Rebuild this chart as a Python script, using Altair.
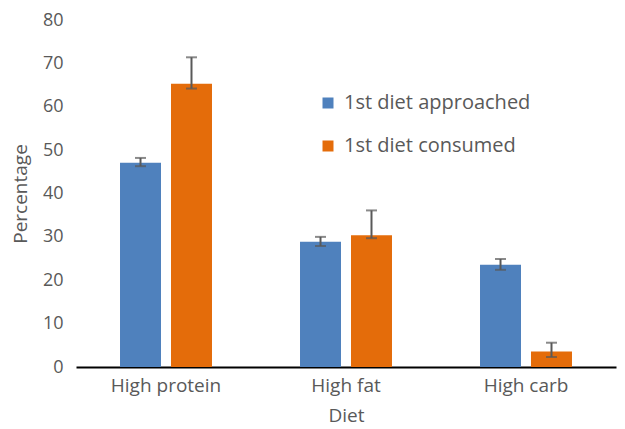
import altair as alt
import pandas as pd

diets = ["High protein", "High fat", "High carb"]
series = ["1st diet approached", "1st diet consumed"]
approached = [47.1, 28.9, 23.6]
approached_lo = [46.3, 27.9, 22.4]
approached_hi = [48.2, 30.0, 24.9]
consumed = [65.3, 30.4, 3.6]
consumed_lo = [64.2, 29.7, 2.3]
consumed_hi = [71.4, 36.1, 5.6]

rows = []
for i, d in enumerate(diets):
    rows.append({"Diet": d, "Series": series[0], "Value": approached[i], "lo": approached_lo[i], "hi": approached_hi[i]})
    rows.append({"Diet": d, "Series": series[1], "Value": consumed[i], "lo": consumed_lo[i], "hi": consumed_hi[i]})
df = pd.DataFrame(rows)

FONT = "Open Sans"
GREY = "#595959"

x = alt.X("Diet:N", sort=diets, title="Diet",
          scale=alt.Scale(paddingInner=0.489, paddingOuter=0.2445),
          axis=alt.Axis(labelAngle=0, ticks=False, domainColor="black", domainWidth=2,
                        labelPadding=9, labelFontSize=19, labelColor=GREY, labelFont=FONT,
                        titleFontSize=19, titleColor=GREY, titleFont=FONT, titleFontWeight="normal",
                        titlePadding=11))
xo = alt.XOffset("Series:N", sort=series, scale=alt.Scale(paddingInner=0.196, paddingOuter=0))

bars = alt.Chart(df).mark_bar().encode(
    x=x, xOffset=xo,
    y=alt.Y("Value:Q", title="Percentage",
            scale=alt.Scale(domain=[0, 80], nice=False),
            axis=alt.Axis(values=list(range(0, 81, 10)), grid=False, ticks=False, domain=False,
                          labelPadding=13, labelFontSize=18, labelColor=GREY, labelFont=FONT,
                          titleFontSize=19, titleColor=GREY, titleFont=FONT, titleFontWeight="normal",
                          titlePadding=12)),
    color=alt.Color("Series:N", sort=series, title=None,
                    scale=alt.Scale(domain=series, range=["#4F81BD", "#E46C0A"]),
                    legend=alt.Legend(orient="none", legendX=242, legendY=73, symbolType="square",
                                      symbolSize=121, symbolStrokeWidth=0, labelFontSize=20,
                                      labelLimit=400, labelColor=GREY, labelFont=FONT,
                                      rowPadding=23, labelOffset=6)),
)

rules = alt.Chart(df).mark_rule(color=GREY, strokeWidth=2).encode(
    x=x, xOffset=xo, y="lo:Q", y2="hi:Q")
caps_lo = alt.Chart(df).mark_tick(color=GREY, thickness=2, size=11, orient="horizontal").encode(
    x=x, xOffset=xo, y="lo:Q")
caps_hi = alt.Chart(df).mark_tick(color=GREY, thickness=2, size=11, orient="horizontal").encode(
    x=x, xOffset=xo, y="hi:Q")

chart = alt.layer(bars, rules, caps_lo, caps_hi).properties(
    width=540, height=347,
    autosize=alt.AutoSizeParams(type="none"),
    padding={"left": 68, "top": 12, "right": 1, "bottom": 61},
).configure_view(stroke=None)

chart.save("out.html", embed_options={"renderer": "svg", "actions": False})
